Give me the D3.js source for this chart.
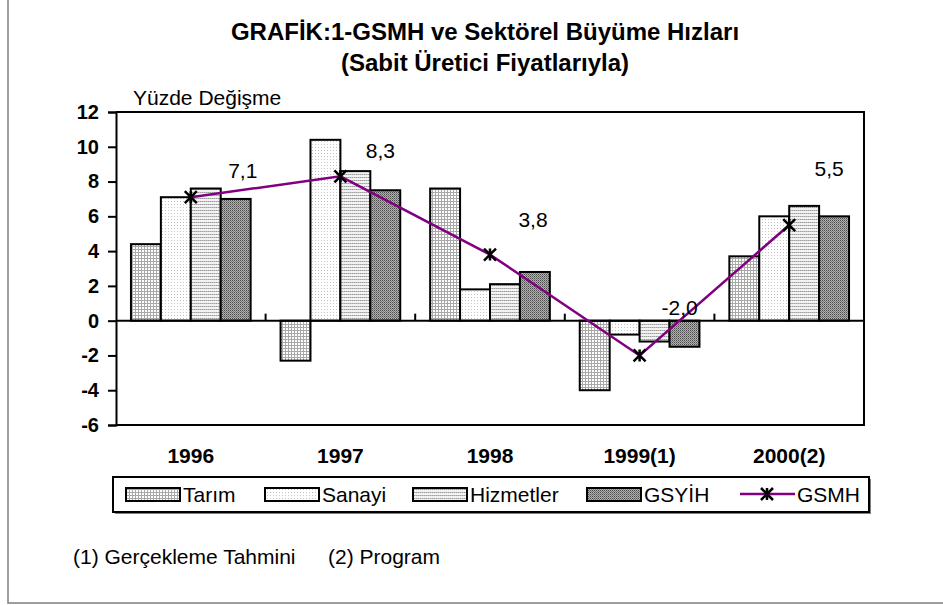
<!DOCTYPE html>
<html>
<head>
<meta charset="utf-8">
<script src="https://cdnjs.cloudflare.com/ajax/libs/d3/7.8.5/d3.min.js"></script>
<style>
  html, body { margin: 0; padding: 0; background: #fff; }
  svg { display: block; font-family: "Liberation Sans", Arial, sans-serif; }
</style>
</head>
<body>
<svg id="chart" width="943" height="605"></svg>
<script>
// chart data
var categories = ["1996", "1997", "1998", "1999(1)", "2000(2)"];
var seriesNames = ["Tarım", "Sanayi", "Hizmetler", "GSYİH"];
var tarim = [4.4, -2.3, 7.6, -4.0, 3.7];
var sanayi = [7.1, 10.4, 1.8, -0.8, 6.0];
var hizmetler = [7.6, 8.6, 2.1, -1.2, 6.6];
var gsyih = [7.0, 7.5, 2.8, -1.5, 6.0];
var gsmh = [7.1, 8.3, 3.8, -2.0, 5.5];
var gsmhLabels = ["7,1", "8,3", "3,8", "-2,0", "5,5"];
var yTicks = [-6, -4, -2, 0, 2, 4, 6, 8, 10, 12];

// label nudges for the GSMH values (manual placement as in the original)
var labelNudge = [[52, -27], [40, -26], [43, -36], [40, -48], [40, -57]];

var svg = d3.select("#chart");
var defs = svg.append("defs");

// fill patterns
function pattern(id, w, h, bg, cells) {
    var p = defs.append("pattern").attr("id", id)
        .attr("patternUnits", "userSpaceOnUse")
        .attr("width", w).attr("height", h);
    p.append("rect").attr("width", w).attr("height", h).attr("fill", bg);
    cells.forEach(function(c) {
        p.append("rect").attr("x", c[0]).attr("y", c[1])
            .attr("width", c[2]).attr("height", c[3]).attr("fill", c[4]);
    });
}
pattern("pTarim", 3, 3, "#ffffff", [[0, 0, 3, 1, "#a8a8a8"], [0, 0, 1, 3, "#a8a8a8"]]);
pattern("pSanayi", 3, 3, "#ffffff", [[0, 0, 1, 1, "#c4c4c4"]]);
pattern("pHizmetler", 2, 3, "#f2f2f2", [[0, 0, 2, 1, "#c4c4c4"], [0, 0, 1, 1, "#9a9a9a"]]);
pattern("pGsyih", 2, 2, "#b0b0b0", [[0, 0, 1, 1, "#4a4a4a"], [1, 1, 1, 1, "#7a7a7a"]]);
var fills = ["url(#pTarim)", "url(#pSanayi)", "url(#pHizmetler)", "url(#pGsyih)"];
var seriesValues = [tarim, sanayi, hizmetler, gsyih];

// outer frame
svg.append("rect")
    .attr("x", 8).attr("y", -4).attr("width", 1000).attr("height", 607)
    .attr("fill", "none").attr("stroke", "#7f7f7f").attr("stroke-width", 1.5);

// title
svg.append("text").attr("x", 485).attr("y", 40)
    .attr("text-anchor", "middle").style("font-weight", "bold").style("font-size", "24px")
    .text("GRAFİK:1-GSMH ve Sektörel Büyüme Hızları");
svg.append("text").attr("x", 485).attr("y", 71)
    .attr("text-anchor", "middle").style("font-weight", "bold").style("font-size", "24px")
    .text("(Sabit Üretici Fiyatlarıyla)");

var plot = { left: 116, right: 864, top: 112, bottom: 425 };

var x = d3.scaleBand().domain(categories)
    .range([plot.left, plot.right]).paddingInner(0.2).paddingOuter(0.1);
var xs = d3.scaleBand().domain(seriesNames).range([0, x.bandwidth()]);
var y = d3.scaleLinear().domain([-6, 12]).range([plot.bottom, plot.top]);

// bars
seriesNames.forEach(function(name, si) {
    svg.append("g").selectAll("rect")
        .data(seriesValues[si])
        .join("rect")
        .attr("x", function(d, i) { return x(categories[i]) + xs(name); })
        .attr("y", function(d) { return y(Math.max(0, d)); })
        .attr("width", xs.bandwidth())
        .attr("height", function(d) { return Math.abs(y(d) - y(0)); })
        .attr("fill", fills[si])
        .attr("stroke", "#000").attr("stroke-width", 2);
});

// plot border (top, right, bottom)
svg.append("path")
    .attr("d", "M" + plot.left + "," + plot.top + "H" + plot.right + "V" + plot.bottom + "H" + plot.left)
    .attr("fill", "none").attr("stroke", "#000").attr("stroke-width", 2);

// zero line with category separators
var zero = y(0);
svg.append("line").attr("x1", plot.left).attr("x2", plot.right)
    .attr("y1", zero).attr("y2", zero).attr("stroke", "#000").attr("stroke-width", 2);
svg.append("g").selectAll("line")
    .data(categories.slice(1))
    .join("line")
    .attr("x1", function(d) { return x(d) - x.step() * x.paddingInner() / 2; })
    .attr("x2", function(d) { return x(d) - x.step() * x.paddingInner() / 2; })
    .attr("y1", zero).attr("y2", zero - 7)
    .attr("stroke", "#000").attr("stroke-width", 2);

// y axis
var yAxis = svg.append("g")
    .attr("transform", "translate(" + plot.left + ",0)")
    .call(d3.axisLeft(y).tickValues(yTicks).tickSize(8).tickPadding(9)
        .tickFormat(function(d) { return String(d); }));
yAxis.select(".domain").attr("stroke", "#000").attr("stroke-width", 2);
yAxis.selectAll(".tick line").attr("stroke", "#000").attr("stroke-width", 2);
yAxis.selectAll(".tick text")
    .style("font-family", "'Liberation Sans', Arial, sans-serif")
    .style("font-size", "20px").style("font-weight", "bold").attr("fill", "#000");

svg.append("text").attr("x", 133).attr("y", 105)
    .style("font-size", "21px").text("Yüzde Değişme");

// category labels
svg.append("g").selectAll("text")
    .data(categories)
    .join("text")
    .attr("x", function(d) { return x(d) + x.bandwidth() / 2; })
    .attr("y", 463)
    .attr("text-anchor", "middle")
    .style("font-size", "21px").style("font-weight", "bold")
    .text(function(d) { return d; });

// GSMH line
var cx = function(d, i) { return x(categories[i]) + x.bandwidth() / 2; };
svg.append("path")
    .datum(gsmh)
    .attr("d", d3.line().x(cx).y(function(d) { return y(d); }))
    .attr("fill", "none").attr("stroke", "#800080").attr("stroke-width", 2.5);

function star(g, s) {
    g.append("path")
        .attr("d", "M" + (-s) + "," + (-s) + "L" + s + "," + s +
            "M" + s + "," + (-s) + "L" + (-s) + "," + s +
            "M0," + (-s) + "V" + s)
        .attr("stroke", "#000").attr("stroke-width", 2.5).attr("fill", "none");
}
svg.append("g").selectAll("g")
    .data(gsmh)
    .join("g")
    .attr("transform", function(d, i) { return "translate(" + cx(d, i) + "," + y(d) + ")"; })
    .each(function() { star(d3.select(this), 6); });

svg.append("g").selectAll("text")
    .data(gsmh)
    .join("text")
    .attr("x", function(d, i) { return cx(d, i) + labelNudge[i][0]; })
    .attr("y", function(d, i) { return y(d) + labelNudge[i][1] + 8; })
    .attr("text-anchor", "middle")
    .style("font-size", "21px")
    .text(function(d, i) { return gsmhLabels[i]; });

// legend
var legend = svg.append("g");
legend.append("rect").attr("x", 115).attr("y", 479).attr("width", 756).attr("height", 35)
    .attr("fill", "#808080");
legend.append("rect").attr("x", 113).attr("y", 477).attr("width", 756).attr("height", 35)
    .attr("fill", "#fff").attr("stroke", "#000").attr("stroke-width", 2);
var legendX = [126, 265, 413, 587];
seriesNames.forEach(function(name, i) {
    legend.append("rect").attr("x", legendX[i]).attr("y", 488)
        .attr("width", 54).attr("height", 13)
        .attr("fill", fills[i]).attr("stroke", "#000").attr("stroke-width", 2);
    legend.append("text").attr("x", legendX[i] + 57).attr("y", 502)
        .style("font-size", "21px").text(name);
});
legend.append("line").attr("x1", 740).attr("x2", 795).attr("y1", 494).attr("y2", 494)
    .attr("stroke", "#800080").attr("stroke-width", 2.5);
star(legend.append("g").attr("transform", "translate(767,494)"), 6);
legend.append("text").attr("x", 797).attr("y", 502).style("font-size", "21px").text("GSMH");

// footnotes
svg.append("text").attr("x", 73).attr("y", 564).style("font-size", "21px").text("(1) Gerçekleme Tahmini");
svg.append("text").attr("x", 328).attr("y", 564).style("font-size", "21px").text("(2) Program");
</script>
</body>
</html>
